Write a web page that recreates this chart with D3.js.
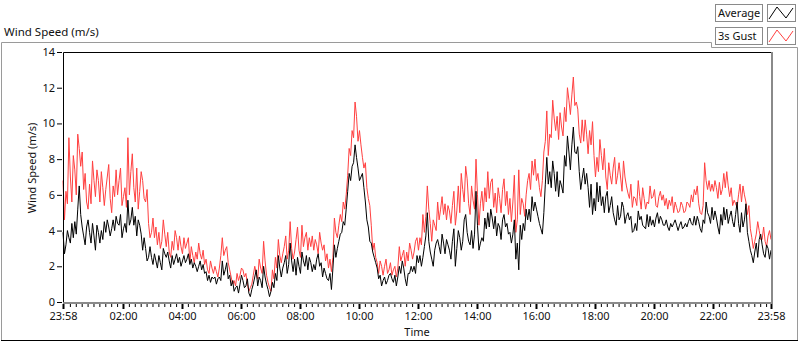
<!DOCTYPE html>
<html>
<head>
<meta charset="utf-8">
<script src="https://cdn.jsdelivr.net/npm/d3@7/dist/d3.min.js"></script>
<style>
  body { margin: 0; background: #fff; }
  svg text { font-family: "Noto Sans", "Liberation Sans", sans-serif; fill: #111; }
</style>
</head>
<body>
<svg id="drawing_region"></svg>
<script>
// samples every 3 minutes from 23:58 to 23:58 next day
const stepMinutes = 3;

const gust = [
  6.8, 4.6, 6.2, 5.5, 9.2, 7.0, 5.6, 8.2, 7.4, 6.0, 9.4, 8.6, 7.6, 8.4, 6.3, 7.2, 5.6, 5.2, 6.6, 5.5,
  7.9, 6.8, 5.9, 7.4, 6.8, 5.6, 7.3, 6.4, 5.4, 6.3, 7.0, 7.7, 5.8, 5.0, 6.5, 5.9, 7.4, 6.0, 6.8, 7.5,
  5.4, 5.9, 6.4, 5.3, 9.2, 6.0, 7.3, 8.3, 6.4, 5.6, 7.5, 5.2, 6.2, 7.3, 6.8, 5.8, 5.6, 6.3, 4.4, 3.6,
  3.9, 4.7, 3.6, 4.2, 3.2, 3.9, 3.0, 3.4, 4.6, 3.8, 3.1, 3.9, 2.8, 2.5, 3.4, 2.9, 4.0, 3.6, 2.9, 3.7,
  3.1, 2.7, 3.6, 3.0, 3.3, 3.6, 2.2, 3.1, 2.6, 2.2, 2.8, 2.4, 3.3, 2.7, 2.4, 2.9, 2.1, 2.4, 1.8, 1.6,
  2.3, 1.9, 1.6, 2.0, 1.7, 1.4, 1.9, 2.6, 3.6, 2.6, 2.9, 3.1, 2.2, 1.8, 1.4, 1.0, 1.2, 0.9, 1.6, 1.2,
  1.5, 1.9, 1.8, 1.4, 1.6, 1.0, 0.6, 0.8, 1.0, 1.5, 2.0, 1.6, 1.3, 2.4, 1.9, 1.6, 3.4, 2.3, 1.5, 1.1,
  0.8, 0.6, 1.8, 1.3, 2.5, 1.9, 3.5, 2.6, 2.2, 2.7, 3.1, 3.7, 2.4, 2.9, 4.5, 3.0, 2.4, 2.8, 3.5, 4.2,
  2.9, 2.5, 4.3, 3.1, 3.6, 3.9, 2.9, 3.6, 3.1, 3.7, 2.9, 3.5, 3.2, 2.7, 3.9, 3.3, 2.9, 3.2, 2.3, 2.7,
  1.9, 2.4, 1.7, 2.5, 4.7, 3.9, 3.6, 4.3, 4.9, 4.5, 5.6, 5.2, 6.0, 7.1, 8.6, 8.2, 9.6, 9.2, 11.2, 10.4,
  9.0, 9.6, 8.8, 8.1, 7.5, 7.8, 6.4, 5.8, 5.4, 4.3, 2.9, 3.3, 2.5, 2.2, 1.6, 2.3, 2.0, 1.5, 2.0, 2.4,
  1.6, 1.8, 2.2, 1.5, 1.8, 2.0, 1.4, 1.9, 3.1, 2.3, 2.6, 2.9, 2.0, 2.8, 2.3, 3.3, 2.9, 2.4, 2.8, 3.4,
  3.6, 2.9, 3.6, 3.2, 4.9, 3.9, 4.8, 6.5, 5.2, 4.4, 3.4, 4.6, 4.3, 4.0, 5.6, 4.6, 5.2, 5.9, 4.9, 5.5,
  4.6, 5.4, 5.1, 4.4, 5.4, 6.2, 4.3, 5.1, 6.5, 5.0, 7.2, 6.3, 5.6, 7.6, 6.9, 5.5, 4.9, 6.5, 5.7, 5.2,
  8.0, 6.0, 4.3, 5.5, 6.2, 5.1, 6.4, 5.6, 7.3, 5.8, 6.7, 6.9, 5.3, 6.1, 5.0, 6.4, 5.8, 5.0, 6.3, 6.9,
  5.4, 6.2, 4.9, 5.8, 4.5, 5.6, 7.1, 3.9, 4.6, 7.4, 4.9, 5.8, 5.5, 4.8, 6.0, 6.8, 7.2, 6.3, 7.9, 7.1,
  8.0, 6.8, 7.2, 6.4, 5.9, 6.8, 8.4, 9.0, 10.7, 8.2, 9.4, 9.2, 11.3, 10.3, 9.6, 10.4, 9.1, 10.6, 9.8, 9.3,
  10.9, 10.1, 12.0, 11.3, 10.5, 11.6, 12.6, 11.0, 11.2, 10.8, 9.4, 8.9, 10.2, 9.0, 10.2, 9.4, 8.3, 9.6, 8.8, 10.1,
  8.2, 7.0, 8.1, 7.3, 9.1, 8.2, 7.4, 8.6, 7.0, 6.3, 7.8, 7.1, 6.6, 7.5, 8.1, 6.6, 7.1, 7.8, 7.0, 6.2,
  7.9, 7.0, 6.5, 6.1, 5.8, 6.6, 5.3, 5.9, 5.8, 5.4, 6.8, 5.9, 5.2, 6.4, 5.8, 5.2, 5.6, 5.5, 6.5, 5.8,
  5.9, 6.3, 5.4, 5.3, 5.9, 6.2, 5.7, 6.0, 5.4, 5.8, 5.2, 5.7, 5.4, 5.9, 5.0, 5.6, 5.3, 5.0, 5.1, 5.6,
  5.4, 5.0, 5.1, 5.6, 5.5, 5.3, 6.0, 5.6, 6.3, 6.0, 6.5, 5.5, 5.0, 4.9, 5.4, 7.8, 6.8, 6.3, 6.8, 6.2,
  6.6, 6.2, 6.8, 6.4, 5.8, 6.7, 6.0, 6.3, 7.2, 6.4, 7.3, 6.5, 5.9, 6.4, 5.4, 5.7, 5.5, 5.3, 6.0, 6.6,
  5.6, 6.5, 6.0, 5.6, 4.9, 5.4, 4.1, 3.6, 3.0, 3.4, 3.8, 4.5, 4.0, 3.5, 3.5, 4.2, 3.4, 3.1, 3.7, 4.0,
  3.5
];

const average = [
  3.9, 2.7, 3.2, 4.0, 3.6, 3.3, 4.4, 3.6, 4.5, 3.8, 5.2, 6.5, 4.9, 4.2, 3.7, 3.2, 4.2, 4.6, 3.9, 3.3,
  4.4, 3.7, 2.9, 4.3, 3.9, 3.3, 4.0, 3.5, 4.5, 3.9, 4.6, 4.2, 3.7, 4.1, 4.6, 4.0, 4.8, 4.4, 4.3, 4.9,
  3.6, 4.1, 4.4, 3.9, 5.7, 4.3, 4.6, 5.3, 4.3, 4.8, 3.7, 4.6, 4.3, 3.8, 2.9, 3.6, 3.0, 2.3, 2.5, 3.1,
  2.5, 2.1, 2.7, 2.3, 1.9, 2.6, 2.2, 1.8, 3.0, 2.7, 2.5, 2.8, 2.3, 1.9, 2.6, 2.1, 2.4, 2.7, 2.2, 2.5,
  2.0, 2.3, 2.6, 2.2, 2.4, 2.7, 2.1, 2.4, 1.9, 2.2, 2.0, 1.7, 2.0, 2.3, 1.8, 2.1, 1.6, 1.7, 1.2, 1.5,
  1.1, 1.4, 1.3, 1.4, 1.0, 1.3, 1.4, 1.2, 2.3, 1.5, 1.8, 2.2, 1.3, 1.5, 0.9, 1.2, 0.6, 0.8, 0.9, 0.5,
  1.0, 1.5, 1.2, 0.8, 0.9, 1.3, 0.5, 0.3, 0.7, 1.0, 1.4, 1.8, 0.9, 1.4, 1.2, 0.8, 2.0, 1.4, 1.0, 0.7,
  0.3, 0.6, 1.1, 0.8, 1.6, 1.2, 2.6, 1.9, 1.4, 1.9, 2.2, 2.6, 1.6, 2.1, 3.3, 2.3, 1.7, 2.4, 1.5, 2.5,
  2.0, 1.6, 2.8, 2.3, 2.0, 2.6, 1.8, 2.5, 2.2, 1.7, 2.1, 1.8, 2.4, 2.7, 2.0, 2.2, 1.4, 1.9, 1.6, 1.3,
  1.2, 1.6, 0.7, 1.9, 3.2, 2.5, 3.0, 3.4, 3.8, 3.9, 4.5, 4.3, 5.2, 6.2, 7.2, 6.8, 7.6, 7.8, 8.8, 8.1,
  7.5, 6.8, 7.0, 7.2, 6.4, 5.6, 4.6, 4.2, 3.4, 3.3, 2.8, 2.5, 2.2, 1.9, 1.3, 1.5, 0.9, 1.2, 1.4, 1.0,
  1.2, 1.5, 1.6, 1.3, 1.1, 1.5, 0.9, 1.4, 2.0, 1.6, 2.3, 1.9, 1.3, 0.9, 1.6, 1.6, 2.0, 1.7, 2.0, 1.6,
  2.6, 2.2, 2.6, 2.0, 2.5, 3.1, 3.7, 5.0, 3.4, 2.8, 2.4, 2.0, 2.9, 3.3, 3.5, 3.1, 2.7, 3.8, 3.3, 2.7,
  3.5, 3.2, 2.9, 2.4, 3.4, 4.1, 2.0, 3.0, 4.0, 3.6, 2.9, 3.4, 4.6, 4.9, 3.9, 3.4, 3.2, 4.0, 3.0, 3.8,
  6.2, 4.3, 2.9, 3.3, 3.6, 3.4, 4.7, 4.1, 5.0, 4.2, 5.2, 4.7, 4.1, 4.8, 3.7, 4.4, 4.2, 3.5, 4.6, 4.9,
  4.2, 4.4, 3.8, 3.9, 3.3, 3.8, 4.6, 2.4, 3.3, 1.8, 4.3, 3.5, 4.4, 4.0, 5.2, 4.6, 5.2, 4.5, 5.9, 5.1,
  5.6, 5.2, 4.8, 4.4, 4.1, 3.8, 5.0, 6.6, 8.1, 6.6, 7.3, 6.4, 7.9, 7.2, 6.2, 7.3, 5.9, 6.8, 6.5, 6.1,
  8.2, 7.6, 9.3, 8.4, 7.4, 8.8, 9.8, 8.4, 8.3, 8.7, 7.3, 6.3, 6.9, 7.5, 6.6, 7.2, 6.4, 5.3, 6.6, 4.9,
  5.8, 5.1, 6.7, 5.6, 6.5, 5.4, 5.9, 5.0, 5.9, 6.2, 5.0, 5.4, 5.9, 5.0, 4.6, 4.3, 5.4, 4.6, 4.8, 5.6,
  5.3, 4.4, 4.8, 5.0, 4.6, 4.8, 3.9, 4.0, 4.4, 4.0, 5.1, 4.6, 4.8, 4.3, 4.2, 4.1, 4.9, 4.2, 4.8, 4.3,
  4.6, 4.2, 4.7, 5.0, 4.4, 4.8, 4.6, 4.3, 4.3, 4.6, 4.2, 4.0, 4.4, 4.2, 4.4, 4.6, 4.3, 4.0, 4.3, 4.5,
  4.1, 4.2, 4.4, 4.2, 4.5, 4.7, 4.4, 4.3, 4.8, 4.3, 4.8, 4.5, 4.1, 3.9, 4.6, 4.4, 5.6, 5.0, 4.8, 4.4,
  5.3, 4.6, 5.1, 4.7, 4.2, 3.8, 4.9, 4.3, 5.3, 4.6, 5.2, 4.4, 4.8, 5.1, 4.5, 4.2, 4.9, 5.6, 4.4, 3.9,
  5.0, 4.2, 4.6, 5.5, 3.9, 3.4, 2.9, 2.6, 2.2, 2.8, 3.3, 2.5, 3.5, 3.8, 3.2, 2.7, 2.5, 3.2, 3.0, 2.4,
  2.9
];

const timeLabels = ["23:58", "02:00", "04:00", "06:00", "08:00", "10:00", "12:00",
                    "14:00", "16:00", "18:00", "20:00", "22:00", "23:58"];
const yTicks = [0, 2, 4, 6, 8, 10, 12, 14];
const seriesNames = ["Average", "3s Gust"];
const seriesColors = ["#000000", "#ff4040"];

const W = 800, H = 342;
const plot = { left: 63, top: 52, right: 771, bottom: 302 };

const svg = d3.select('#drawing_region')
    .attr('width', W)
    .attr('height', H);

// minutes elapsed since the first label (23:58)
const toMinutes = (label, i) => {
    if (i === timeLabels.length - 1) return 1440;
    const [h, m] = label.split(':').map(Number);
    return ((h * 60 + m) - (23 * 60 + 58) + 1440) % 1440;
};
const majorMinutes = timeLabels.map(toMinutes);

const xscale = d3.scaleLinear()
    .domain([0, 1440])
    .range([plot.left, plot.right]);
const yscale = d3.scaleLinear()
    .domain([0, 14])
    .range([plot.bottom, plot.top]);

// outer frame
svg.append('path')
    .attr('d', `M1.5,${H - 1} L1.5,42.5 L711.5,42.5 L711.5,47.5 L797.5,47.5 L797.5,${H - 1}`)
    .attr('fill', 'none')
    .attr('stroke', '#9a9a9a');
svg.append('line')
    .attr('x1', 1).attr('x2', 798).attr('y1', H - 1.5).attr('y2', H - 1.5)
    .attr('stroke', '#000');

svg.append('text')
    .attr('x', 4).attr('y', 36)
    .style('font-size', '11.5px')
    .text('Wind Speed (m/s)');

// plot area
svg.append('rect')
    .attr('x', plot.left).attr('y', plot.top)
    .attr('width', plot.right - plot.left).attr('height', plot.bottom - plot.top)
    .attr('fill', '#fff');

// lines (gust under average)
const line = d3.line()
    .x((d, i) => xscale(i * stepMinutes))
    .y(d => yscale(d));

svg.append('path')
    .attr('d', line(gust))
    .attr('fill', 'none')
    .attr('stroke', seriesColors[1])
    .attr('stroke-width', 1);
svg.append('path')
    .attr('d', line(average))
    .attr('fill', 'none')
    .attr('stroke', seriesColors[0])
    .attr('stroke-width', 1);

svg.append('path')
    .attr('d', `M${plot.left + 0.5},${plot.bottom} L${plot.left + 0.5},${plot.top + 0.5} L${plot.right + 1},${plot.top + 0.5}`)
    .attr('fill', 'none').attr('stroke', '#000');
svg.append('path')
    .attr('d', `M${plot.left},${plot.bottom + 1} L${plot.right + 1},${plot.bottom + 1} L${plot.right + 1},${plot.top}`)
    .attr('fill', 'none').attr('stroke', '#8a8a8a').attr('stroke-width', 2);

// y axis
const yaxis = d3.axisLeft(yscale)
    .tickValues(yTicks)
    .tickSize(5)
    .tickPadding(2);
const yg = svg.append('g')
    .attr('transform', `translate(${plot.left - 1}, 0)`)
    .call(yaxis);
yg.select('.domain').remove();
yg.selectAll('text').style('font-size', '11px').attr('fill', '#111');

// x axis, minor ticks every 12 minutes on the clock
const minor = d3.range(2, 1440, 12)
    .filter(m => majorMinutes.every(M => Math.abs(M - m) > 4));
const xminor = d3.axisBottom(xscale)
    .tickValues(minor)
    .tickSize(3)
    .tickFormat('');
const xmg = svg.append('g')
    .attr('transform', `translate(0, ${plot.bottom + 2})`)
    .call(xminor);
xmg.select('.domain').remove();

const xaxis = d3.axisBottom(xscale)
    .tickValues(majorMinutes)
    .tickSize(5)
    .tickPadding(3)
    .tickFormat((d, i) => timeLabels[i]);
const xg = svg.append('g')
    .attr('transform', `translate(0, ${plot.bottom + 2})`)
    .call(xaxis);
xg.select('.domain').remove();
xg.selectAll('line').attr('stroke-width', 2);
xg.selectAll('text').style('font-size', '11px').attr('fill', '#111');

svg.append('text')
    .attr('x', (plot.left + plot.right) / 2).attr('y', 336)
    .attr('text-anchor', 'middle')
    .style('font-size', '11px')
    .text('Time');

svg.append('text')
    .attr('transform', `translate(36, ${(plot.top + plot.bottom) / 2 - 9}) rotate(-90)`)
    .attr('text-anchor', 'middle')
    .style('font-size', '11px')
    .text('Wind Speed (m/s)');

// legend
seriesNames.forEach((name, i) => {
    const top = 4 + i * 23;
    svg.append('rect')
        .attr('x', 715.5).attr('y', top + 0.5)
        .attr('width', 47).attr('height', 17)
        .attr('fill', '#fff').attr('stroke', '#8a8a8a');
    svg.append('text')
        .attr('x', 718).attr('y', top + 13)
        .style('font-size', '11px')
        .text(name);
    svg.append('rect')
        .attr('x', 767.5).attr('y', top + 0.5)
        .attr('width', 28).attr('height', 17)
        .attr('fill', '#fff').attr('stroke', '#8a8a8a');
    svg.append('polyline')
        .attr('points', [[769, top + 15], [777, top + 3], [786, top + 14], [793, top + 4]].join(' '))
        .attr('fill', 'none')
        .attr('stroke', seriesColors[i]);
});
</script>
</body>
</html>
